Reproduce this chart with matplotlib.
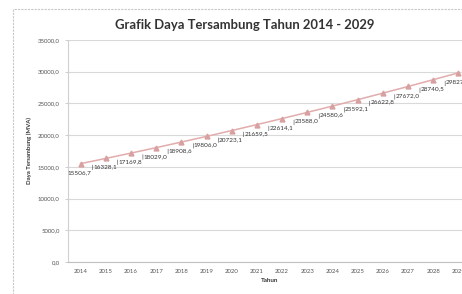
import matplotlib
matplotlib.use("Agg")
import matplotlib.pyplot as plt
from matplotlib.patches import Rectangle
from matplotlib.ticker import FuncFormatter
from matplotlib.transforms import offset_copy

years = [str(y) for y in range(2014, 2030)]
daya = [15506.7, 16328.1, 17169.8, 18029.0, 18908.6, 19806.0, 20723.1, 21659.5,
        22614.1, 23588.0, 24580.6, 25592.1, 26622.8, 27672.0, 28740.5, 29827.5]
title = "Grafik Daya Tersambung Tahun 2014 - 2029"
y_label = "Daya Tersambung (MVA)"
x_label = "Tahun"

plt.rcParams["font.family"] = ["Lato", "DejaVu Sans"]

fig = plt.figure(figsize=(4.62, 2.94), dpi=100)
W, H = 462, 294

# outer chart frame
fig.patches.append(Rectangle((13 / W, -0.05), 1.1, 1 - 9 / H + 0.05, transform=fig.transFigure,
                             fill=False, edgecolor="#c8c8c8", linewidth=0.8, linestyle=(0, (2, 1))))

ax = fig.add_axes([68 / W, 1 - 262 / H, (471 - 68) / W, (262 - 40) / H])
x = range(len(years))
ax.plot(x, daya, color="#e2acac", linewidth=1.1, marker="^", markersize=3.5,
        markerfacecolor="#d8a0a0", markeredgecolor="#d8a0a0")

# data labels below each point with a short leader at the right end
leader_lo = offset_copy(ax.transData, fig=fig, x=8.6, y=-4.5, units="points")
leader_hi = offset_copy(ax.transData, fig=fig, x=8.6, y=-1.0, units="points")
for i, v in enumerate(daya):
    label = f"{v:.1f}".replace(".", ",")
    ax.annotate(label, (i, v), xytext=(-0.5, -4.5), textcoords="offset points",
                ha="center", va="top", fontsize=4.6, color="#333333",
                annotation_clip=False)
    ax.annotate("", xy=(i, v), xycoords=leader_hi, xytext=(i, v), textcoords=leader_lo,
                arrowprops=dict(arrowstyle="-", color="#444444", lw=0.4,
                                shrinkA=0, shrinkB=0),
                annotation_clip=False)

ax.set_xlim(-0.5, len(years) - 0.5)
ax.set_ylim(0, 35000)
ax.set_yticks(range(0, 35001, 5000))
ax.yaxis.set_major_formatter(FuncFormatter(lambda v, p: f"{v:.1f}".replace(".", ",")))
ax.set_xticks(list(x))
ax.set_xticklabels(years)
ax.tick_params(axis="both", labelsize=4.3, colors="#555555", length=2, width=0.5)
ax.tick_params(axis="x", length=0, pad=5)
ax.tick_params(axis="y", colors="#bbbbbb", labelcolor="#555555", pad=4)
ax.grid(axis="y", color="#d9d9d9", linewidth=0.8)
ax.set_axisbelow(True)
for side in ["top", "right"]:
    ax.spines[side].set_visible(False)
ax.spines["left"].set_color("#d0d0d0")
ax.spines["bottom"].set_color("#c0c0c0")
ax.spines["left"].set_linewidth(0.8)
ax.spines["bottom"].set_linewidth(0.8)

ax.set_xlabel(x_label, fontsize=4.5, fontweight="bold", color="#333333", labelpad=3)
ax.set_ylabel(y_label, fontsize=4.3, fontweight="bold", color="#333333", labelpad=4)

fig.text(245 / W, 1 - 25 / H, title, ha="center", va="center", fontsize=9.4,
         fontweight="bold", color="#333333")

fig.savefig("out.png", dpi=100)
